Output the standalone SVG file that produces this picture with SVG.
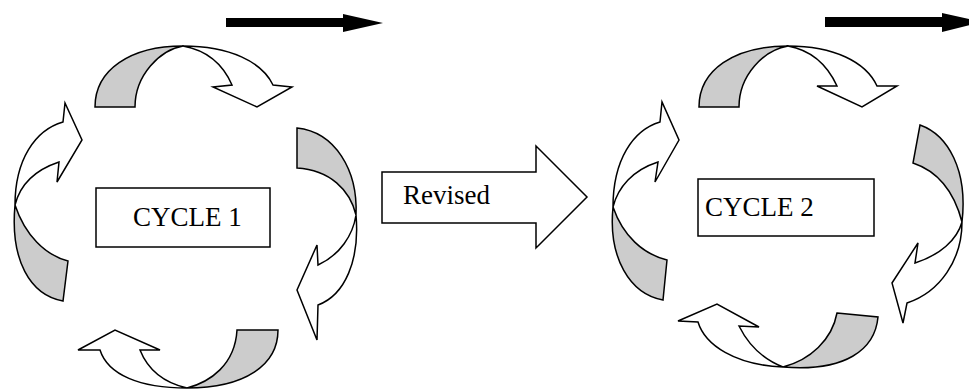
<svg xmlns="http://www.w3.org/2000/svg" width="969" height="390" viewBox="0 0 969 390">
<style>
.s{stroke:#000;stroke-width:1.5;stroke-linejoin:miter}
.g{fill:#cccccc}
.w{fill:#fff}
.t{font-family:"Liberation Serif","Times New Roman",serif;font-size:27px;fill:#000}
</style>
<rect width="969" height="390" fill="#fff"/>
<g id="connectors">
<path id="top-arrow-1" d="M226,18 H343 V14 L383,23 L343,32 V27 H226 Z" fill="#000"/>
<path id="top-arrow-2" d="M825,17 H942 V13 L982,22 L942,32 V27 H825 Z" fill="#000"/>
</g>
<g id="cycle1-top">
<path class="s g" d="M95,107 C95,70 130,46 183,46 C160,50 135,75 135,107 Z"/>
<path class="s w" d="M183,46 C230,46 262,62 273,85 L292,87 L257,107 L213,87 L232,85 C222,62 205,50 183,46 Z"/>
</g>
<g id="cycle1-left">
<path class="s g" d="M68,261 L63,301 C30,295 10,260 15,205 C25,235 45,255 68,261 Z"/>
<path class="s w" d="M15,205 C15,160 35,130 63,122 L65,103 L82,140 L57,182 L59,162 C35,170 20,185 15,205 Z"/>
</g>
<g id="cycle1-right">
<path class="s g" d="M297,128 C335,132 358,170 356,215 C350,190 330,170 297,168 Z"/>
<path class="s w" d="M356,215 C360,260 345,295 318,305 L317,340 L297,290 L317,245 L318,265 C340,255 353,235 356,215 Z"/>
</g>
<g id="cycle1-bottom">
<path class="s g" d="M237,330 L278,330 C278,365 245,388 187,388 C210,382 235,365 237,330 Z"/>
<path class="s w" d="M187,388 C140,388 108,375 100,350 L78,350 L115,330 L160,350 L140,350 C148,370 165,383 187,388 Z"/>
</g>
<g id="cycle1">
<rect class="s w" x="96" y="188" width="174" height="59"/>
<text class="t" x="133" y="226">CYCLE 1</text>
</g>
<g id="revised">
<path class="s w" d="M382,172 H536 V146 L587,197 L536,248 V223 H382 Z"/>
<text class="t" x="403" y="204">Revised</text>
</g>
<g id="cycle2-top">
<path class="s g" d="M699,107 C699,70 734,46 788,46 C764,50 739,75 739,107 Z"/>
<path class="s w" d="M788,46 C834,46 866,62 877,86 L897,86 L862,107 L817,86 L837,86 C826,62 810,50 788,46 Z"/>
</g>
<g id="cycle2-left">
<path class="s g" d="M667,260 L663,300 C630,294 608,258 613,207 C623,236 643,254 667,260 Z"/>
<path class="s w" d="M613,207 C613,160 633,130 660,122 L662,102 L679,140 L655,182 L658,162 C633,170 618,187 613,207 Z"/>
</g>
<g id="cycle2-right">
<path class="s g" d="M920,125 C948,135 968,170 962,222 C955,195 940,172 913,163 Z"/>
<path class="s w" d="M962,222 C962,260 940,292 907,303 L903,323 L892,283 L918,243 L915,263 C940,255 957,240 962,222 Z"/>
</g>
<g id="cycle2-bottom">
<path class="s g" d="M837,313 L878,317 C875,350 845,372 783,367 C810,360 832,340 837,313 Z"/>
<path class="s w" d="M783,367 C735,365 705,345 698,322 L678,321 L717,304 L759,327 L739,326 C750,348 765,360 783,367 Z"/>
</g>
<g id="cycle2">
<rect class="s w" x="698" y="179" width="176" height="57"/>
<text class="t" x="705" y="216">CYCLE 2</text>
</g>
</svg>
